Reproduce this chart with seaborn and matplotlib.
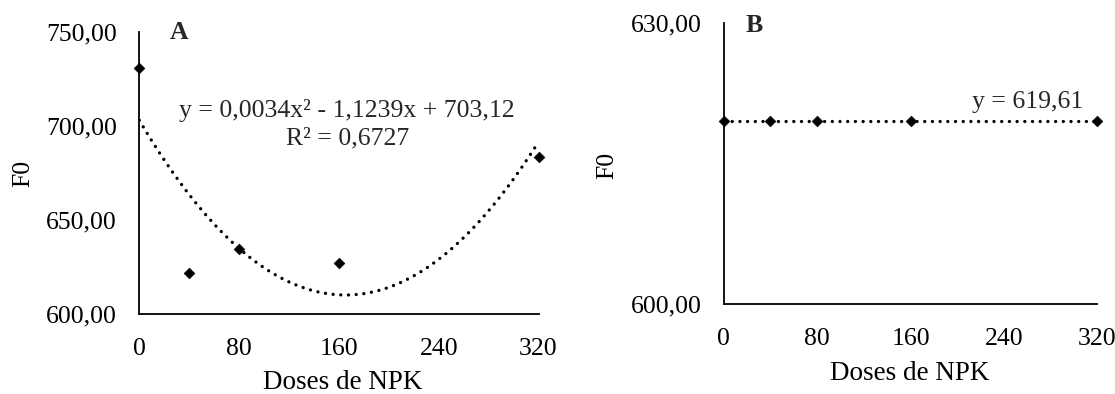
import matplotlib
matplotlib.use("Agg")
import matplotlib.pyplot as plt
import seaborn as sns
import numpy as np
import pandas as pd

# ---- data ----
doses = [0, 40, 80, 160, 320]
f0_a = [731.0, 622.0, 634.8, 627.5, 683.8]
f0_b = [619.61, 619.61, 619.61, 619.61, 619.61]
coef_a = [0.0034, -1.1239, 703.12]   # y = a x^2 + b x + c
mean_b = 619.61
x_ticks = [0, 80, 160, 240, 320]
x_ticklabels = ["0", "80", "160", "240", "320"]
y_ticks_a = [600, 650, 700, 750]
y_ticklabels_a = ["600,00", "650,00", "700,00", "750,00"]
y_ticks_b = [600, 630]
y_ticklabels_b = ["600,00", "630,00"]
eq_a = "y = 0,0034x² - 1,1239x + 703,12\nR² = 0,6727"
eq_b = "y = 619,61"
x_label = "Doses de NPK"
y_label = "F0"

sns.set_theme(style="white")
plt.rcParams['font.family'] = ['Liberation Serif', 'DejaVu Serif']

fig = plt.figure(figsize=(11.15, 3.94), dpi=100)
axA = fig.add_axes([0.1249, 0.2023, 0.3581, 0.7165])
axB = fig.add_axes([0.6490, 0.2284, 0.3353, 0.7124])

fs = 18.5
dot_style = (0, (0.01, 2.3))
dot_lw = 2.4

# Panel A
xs = np.linspace(0, 320, 300)
trend_a = pd.DataFrame({"x": xs, "y": coef_a[0] * xs**2 + coef_a[1] * xs + coef_a[2]})
sns.lineplot(data=trend_a, x="x", y="y", ax=axA, color="black", lw=dot_lw,
             linestyle=dot_style, dash_capstyle="round")
sns.scatterplot(x=doses, y=f0_a, ax=axA, marker="D", s=30, color="black",
                edgecolor="black", zorder=5, clip_on=False)
axA.set_xlim(0, 320)
axA.set_ylim(600, 750)
axA.set_xticks(x_ticks)
axA.set_xticklabels(x_ticklabels)
axA.set_yticks(y_ticks_a)
axA.set_yticklabels(y_ticklabels_a)
axA.text(0.521, 0.673, eq_a, transform=axA.transAxes, ha="center", va="center",
         fontsize=fs, linespacing=1.3)
axA.text(0.1007, 0.9975, "A", transform=axA.transAxes, ha="center", va="center",
         fontsize=fs, fontweight="bold")

# Panel B
trend_b = pd.DataFrame({"x": [0, 320], "y": [mean_b, mean_b]})
sns.lineplot(data=trend_b, x="x", y="y", ax=axB, color="black", lw=dot_lw,
             linestyle=dot_style, dash_capstyle="round")
sns.scatterplot(x=doses, y=f0_b, ax=axB, marker="D", s=30, color="black",
                edgecolor="black", zorder=5, clip_on=False)
axB.set_xlim(0, 320)
axB.set_ylim(600, 630)
axB.set_xticks(x_ticks)
axB.set_xticklabels(x_ticklabels)
axB.set_yticks(y_ticks_b)
axB.set_yticklabels(y_ticklabels_b)
axB.text(0.9617, 0.7207, eq_b, transform=axB.transAxes, ha="right", va="center",
         fontsize=fs)
axB.text(0.082, 0.994, "B", transform=axB.transAxes, ha="center", va="center",
         fontsize=fs, fontweight="bold")

for ax, xl, yl in [(axA, (0.51, -0.243), (-0.29, 0.5)),
                   (axB, (0.4986, -0.2458), (-0.31, 0.495))]:
    for s in ["top", "right"]:
        ax.spines[s].set_visible(False)
    for s in ["left", "bottom"]:
        ax.spines[s].set_color("black")
        ax.spines[s].set_linewidth(1.3)
    ax.tick_params(axis="both", length=0, labelsize=fs, colors="black")
    ax.tick_params(axis="x", pad=17)
    ax.tick_params(axis="y", pad=16)
    ax.set_xlabel(x_label, fontsize=19.5, color="black")
    ax.set_ylabel(y_label, fontsize=fs, color="black")
    ax.xaxis.set_label_coords(*xl)
    ax.xaxis.label.set_va("center")
    ax.yaxis.set_label_coords(*yl)
    ax.yaxis.label.set_va("center")
    ax.grid(False)

fig.savefig("out.png", dpi=100, facecolor="white")
